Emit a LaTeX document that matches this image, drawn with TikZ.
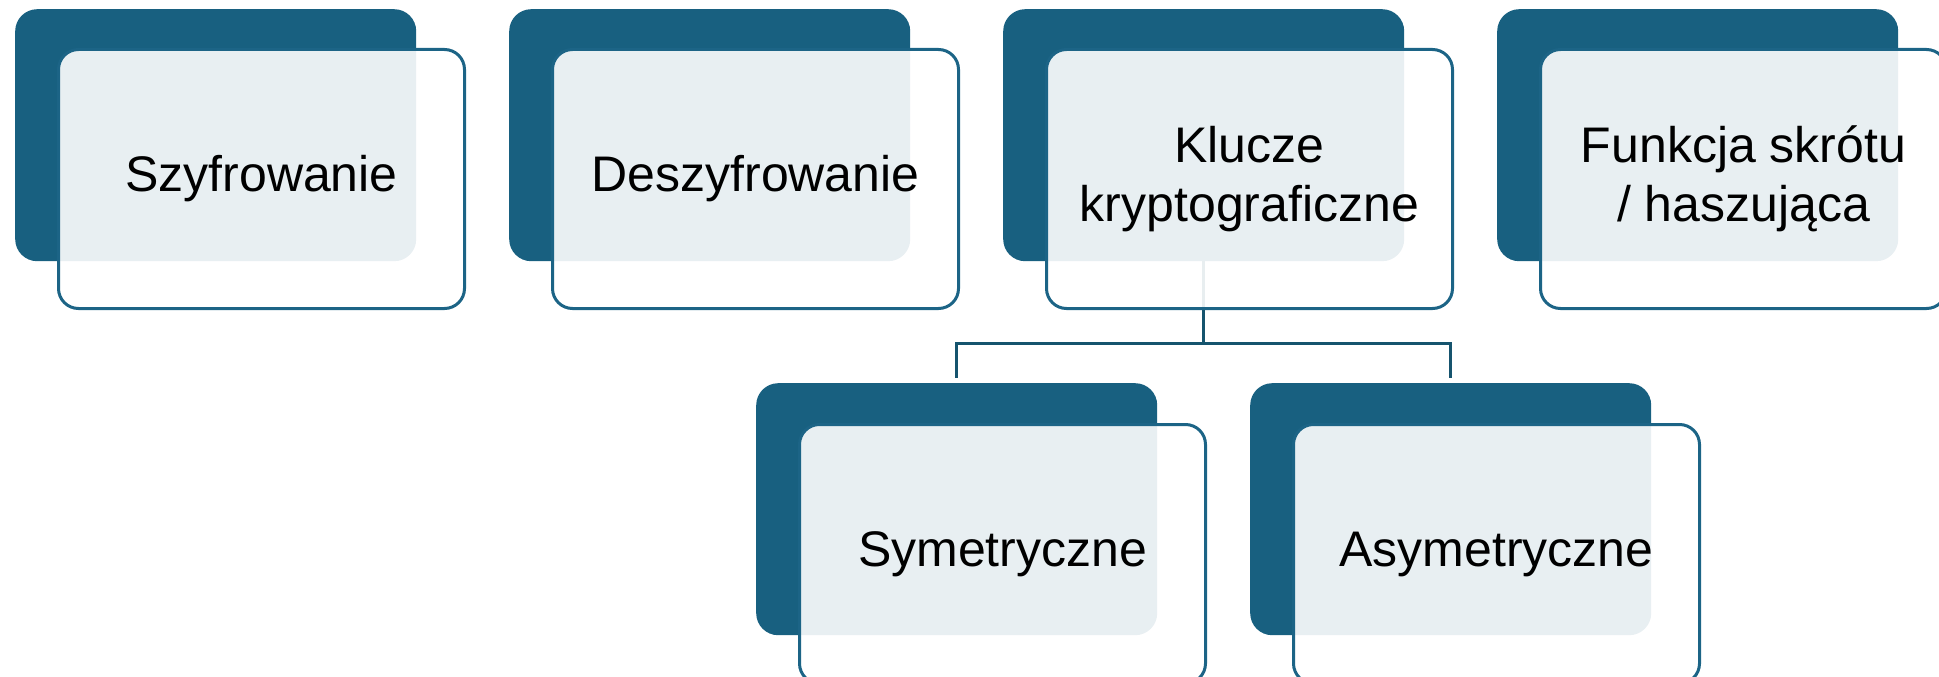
\documentclass[tikz,border=0pt]{standalone}
\usepackage{fontspec}
\setmainfont{Liberation Sans}
\usetikzlibrary{backgrounds}
\definecolor{dkblue}{RGB}{24,96,128}
\definecolor{olblue}{RGB}{28,100,134}
\definecolor{cnblue}{RGB}{22,84,110}
\begin{document}
\begin{tikzpicture}[x=1pt,y=-1pt,
  back/.style={draw=none, fill=dkblue, rounded corners=22pt, minimum width=401pt, minimum height=252pt, inner sep=0pt, anchor=north west},
  front/.style={draw=olblue, line width=3pt, fill=white, fill opacity=0.9, text opacity=1, rounded corners=20pt, minimum width=406pt, minimum height=259pt, inner sep=0pt, anchor=north west, align=center, font=\fontsize{50}{59}\selectfont},
  conn/.style={draw=cnblue, line width=3pt}]
\useasboundingbox (0,0) rectangle (1939,677);
\clip (0,0) rectangle (1939,677);
% back rectangles
\node[back] (d1) at (15,9) {};
\node[back] (d2) at (509,9) {};
\node[back] (d3) at (1003,9) {};
\node[back] (d4) at (1497,9) {};
\node[back] (d5) at (756,383) {};
\node[back] (d6) at (1250,383) {};
% front rectangles
\node[front] (f1) at (57,48) {Szyfrowanie};
\node[front] (f2) at (551,48) {Deszyfrowanie};
\node[front] (f3) at (1045,48) {Klucze\\kryptograficzne};
\node[front] (f4) at (1539,48) {Funkcja skrótu\\/ haszująca};
\node[front] (f5) at (798,423) {Symetryczne};
\node[front] (f6) at (1292,423) {Asymetryczne};
% connectors
\begin{scope}[on background layer]
\draw[conn] (d3.south) -- ++(0,82) coordinate (j)
  -| ([yshift=5pt]d5.north);
\draw[conn] (j) -| ([yshift=5pt]d6.north);
\end{scope}
\end{tikzpicture}
\end{document}
